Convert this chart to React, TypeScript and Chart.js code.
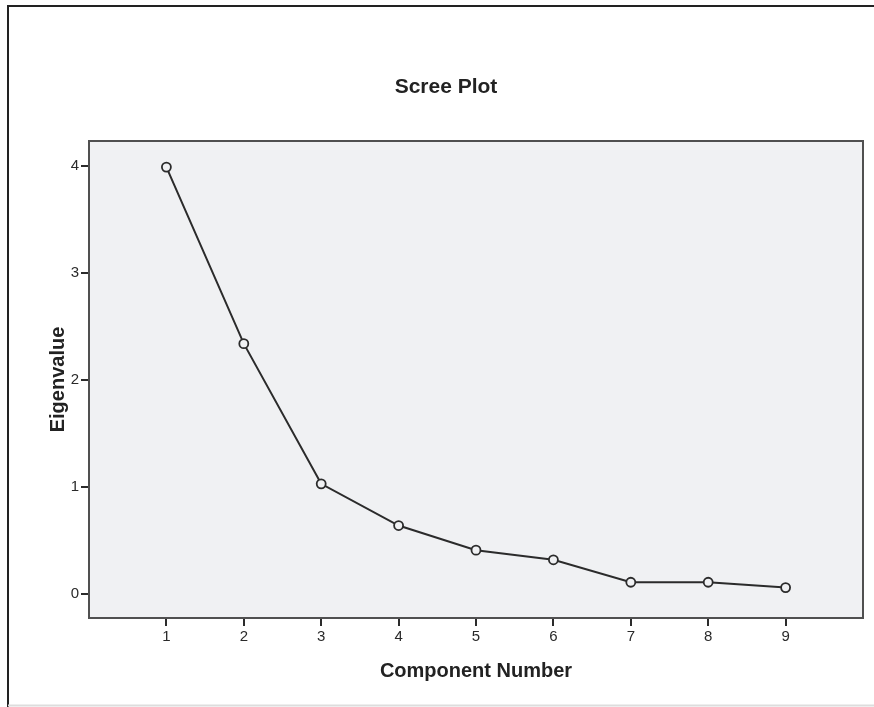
import React, { useEffect, useRef } from "react";
import { Chart, registerables } from "chart.js";

Chart.register(...registerables);

const components = [1, 2, 3, 4, 5, 6, 7, 8, 9];
const eigenvalues = [3.99, 2.34, 1.03, 0.64, 0.41, 0.32, 0.11, 0.11, 0.06];
const xTicks = [1, 2, 3, 4, 5, 6, 7, 8, 9];
const yTicks = [0, 1, 2, 3, 4];
const chartTitle = "Scree Plot";
const xTitle = "Component Number";
const yTitle = "Eigenvalue";

const FONT = "'Liberation Sans', Arial, Helvetica, sans-serif";
const PLOT_BG = "#f0f1f3";
const INK = "#2b2b2b";

const framePlugin = {
  id: "frame",
  beforeDraw(chart: any) {
    const { ctx, chartArea } = chart;
    ctx.save();
    ctx.fillStyle = "#ffffff";
    ctx.fillRect(0, 0, chart.width, chart.height);
    ctx.fillStyle = PLOT_BG;
    ctx.fillRect(chartArea.left, chartArea.top, chartArea.right - chartArea.left, chartArea.bottom - chartArea.top);
    ctx.restore();
  },
  afterDraw(chart: any) {
    const { ctx, chartArea } = chart;
    ctx.save();
    // outer frame
    ctx.strokeStyle = "#222222";
    ctx.lineWidth = 2;
    ctx.beginPath();
    ctx.moveTo(8, chart.height);
    ctx.lineTo(8, 6);
    ctx.lineTo(chart.width, 6);
    ctx.stroke();
    ctx.strokeStyle = "#dddddd";
    ctx.lineWidth = 2;
    ctx.beginPath();
    ctx.moveTo(8, 705.5);
    ctx.lineTo(chart.width, 705.5);
    ctx.stroke();
    // plot border
    ctx.strokeStyle = "#505050";
    ctx.lineWidth = 2;
    ctx.strokeRect(chartArea.left, chartArea.top, chartArea.right - chartArea.left, chartArea.bottom - chartArea.top);
    // title
    ctx.fillStyle = "#222222";
    ctx.font = `bold 21px ${FONT}`;
    ctx.textAlign = "center";
    ctx.textBaseline = "middle";
    ctx.fillText(chartTitle, 446, 87);
    ctx.restore();
  },
};

export default function App() {
  const ref = useRef<HTMLCanvasElement | null>(null);

  useEffect(() => {
    if (!ref.current) return;
    const chart = new Chart(ref.current, {
      type: "line",
      data: {
        datasets: [
          {
            label: yTitle,
            data: components.map((c, i) => ({ x: c, y: eigenvalues[i] })),
            borderColor: INK,
            borderWidth: 2,
            pointRadius: 4.5,
            pointBorderWidth: 1.8,
            pointBorderColor: INK,
            pointBackgroundColor: PLOT_BG,
            tension: 0,
          },
        ],
      },
      plugins: [framePlugin],
      options: {
        responsive: false,
        animation: false,
        events: [],
        layout: { padding: { top: 141, left: 0, right: 11, bottom: 0 } },
        plugins: {
          legend: { display: false },
          title: { display: false },
          tooltip: { enabled: false },
        },
        scales: {
          x: {
            type: "linear",
            min: 0,
            max: 10,
            afterBuildTicks: (scale: any) => {
              scale.ticks = xTicks.map((v) => ({ value: v }));
            },
            afterFit: (scale: any) => {
              scale.height = 89;
            },
            border: { display: false },
            grid: { drawOnChartArea: false, drawTicks: true, tickLength: 8, color: INK, lineWidth: 2 },
            ticks: {
              autoSkip: false,
              maxRotation: 0,
              padding: 2,
              color: "#2a2a2a",
              font: { family: FONT, size: 15 },
            },
            title: {
              display: true,
              text: xTitle,
              color: "#222222",
              font: { family: FONT, size: 20, weight: "bold" },
              padding: { top: 0, bottom: 24 },
            },
          },
          y: {
            type: "linear",
            min: -0.224,
            max: 4.234,
            afterBuildTicks: (scale: any) => {
              scale.ticks = yTicks.map((v) => ({ value: v }));
            },
            afterFit: (scale: any) => {
              scale.width = 89;
            },
            border: { display: false },
            grid: { drawOnChartArea: false, drawTicks: true, tickLength: 8, color: INK, lineWidth: 2 },
            ticks: {
              autoSkip: false,
              padding: 2,
              color: "#2a2a2a",
              font: { family: FONT, size: 15 },
            },
            title: {
              display: true,
              text: yTitle,
              color: "#222222",
              font: { family: FONT, size: 20, weight: "bold" },
              padding: { top: 46, bottom: 0 },
            },
          },
        },
      },
    });
    return () => chart.destroy();
  }, []);

  return (
    <div style={{ position: "absolute", left: 0, top: 0, width: 874, height: 707, background: "#fff" }}>
      <canvas ref={ref} width={874} height={707} style={{ display: "block" }} />
    </div>
  );
}
